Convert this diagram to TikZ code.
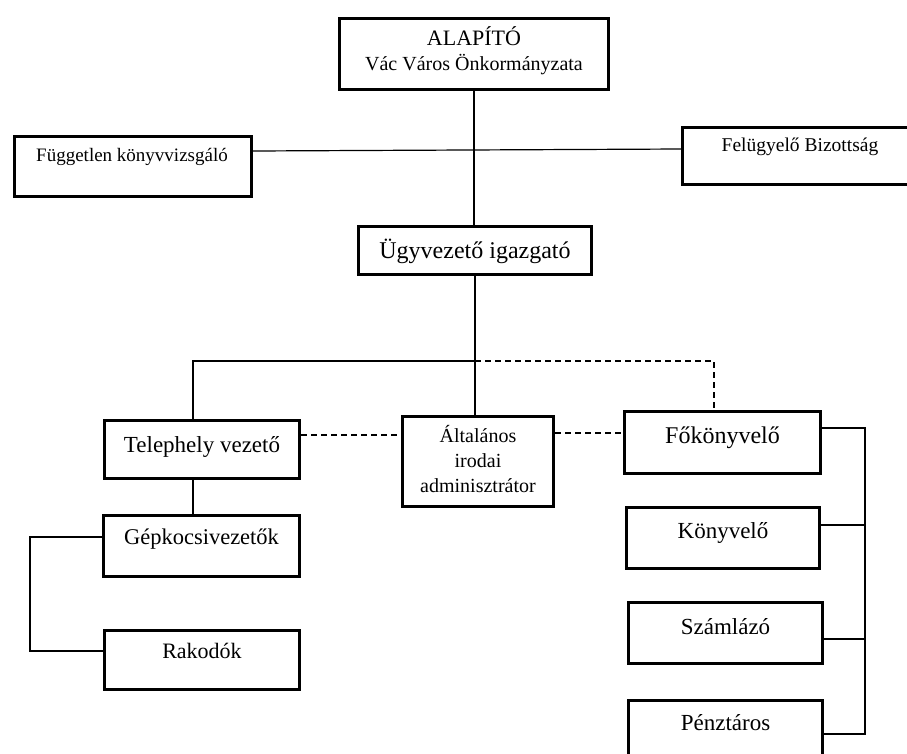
\documentclass[tikz,border=0pt]{standalone}
\usepackage{fontspec}
\setmainfont{Liberation Serif}
\begin{document}
\begin{tikzpicture}[x=1pt,y=-1pt,
  obox/.style={draw=black, line width=3pt, fill=white, rectangle, inner sep=0pt, anchor=north west},
  lbl/.style={anchor=base, inner sep=0pt, text=black},
  conn/.style={draw=black, line width=1.2pt},
  dconn/.style={draw=black, line width=1.2pt, dash pattern=on 6pt off 4pt}]
\useasboundingbox (0,0) rectangle (907,753);
\clip (0,0) rectangle (907,753);
\fill[white] (0,0) rectangle (907,753);
% boxes
\node[obox, minimum width=269pt, minimum height=71pt] (alap) at (338,17) {};
\node[obox, minimum width=237pt, minimum height=60pt] (fug) at (13,135) {};
\node[obox, minimum width=240pt, minimum height=57pt] (fel) at (681,126) {};
\node[obox, minimum width=233pt, minimum height=48pt] (ugy) at (357,225) {};
\node[obox, minimum width=195pt, minimum height=58pt] (tel) at (103,419) {};
\node[obox, minimum width=151pt, minimum height=90pt] (alt) at (401,415) {};
\node[obox, minimum width=196pt, minimum height=62pt] (fok) at (623,410) {};
\node[obox, minimum width=196pt, minimum height=61pt] (gep) at (102,514) {};
\node[obox, minimum width=195pt, minimum height=59pt] (rak) at (103,629) {};
\node[obox, minimum width=193pt, minimum height=61pt] (kon) at (625,506) {};
\node[obox, minimum width=194pt, minimum height=61pt] (sza) at (627,601) {};
\node[obox, minimum width=194pt, minimum height=70pt] (pen) at (627,699) {};
% texts
\node[lbl, font=\fontsize{22}{25}\selectfont] (alapT1) at (alap.center |- 0,45) {ALAPÍTÓ};
\node[lbl, font=\fontsize{20}{24}\selectfont] (alapT2) at (alap.center |- 0,70) {Vác Város Önkormányzata};
\node[lbl, font=\fontsize{19}{23}\selectfont] (fugT) at (132,161) {Független könyvvizsgáló};
\node[lbl, font=\fontsize{19.5}{23}\selectfont] (felT) at (800,151) {Felügyelő Bizottság};
\node[lbl, font=\fontsize{24}{28}\selectfont] (ugyT) at (ugy.center |- 0,258) {Ügyvezető igazgató};
\node[lbl, font=\fontsize{23}{27}\selectfont] (telT) at (tel.center |- 0,452) {Telephely vezető};
\node[lbl, font=\fontsize{20}{24}\selectfont] (altT1) at (alt.center |- 0,442) {Általános};
\node[lbl, font=\fontsize{20}{24}\selectfont] (altT2) at (alt.center |- 0,467) {irodai};
\node[lbl, font=\fontsize{20}{24}\selectfont] (altT3) at (alt.center |- 0,492) {adminisztrátor};
\node[lbl, font=\fontsize{24}{28}\selectfont] (fokT) at (fok.center |- 0,443) {Főkönyvelő};
\node[lbl, font=\fontsize{22.5}{26}\selectfont] (gepT) at (gep.center |- 0,544) {Gépkocsivezetők};
\node[lbl, font=\fontsize{22}{26}\selectfont] (rakT) at (rak.center |- 0,658) {Rakodók};
\node[lbl, font=\fontsize{23}{27}\selectfont] (konT) at (kon.center |- 0,538) {Könyvelő};
\node[lbl, font=\fontsize{23}{27}\selectfont] (szaT) at (sza.center |- 0,634) {Számlázó};
\node[lbl, font=\fontsize{23}{27}\selectfont] (penT) at (pen.center |- 0,730) {Pénztáros};
% junction coordinates
\coordinate (jmid) at (475,361);
\coordinate (jleft) at (193,361);
\coordinate (jright) at (714,361);
\coordinate (ljoin) at (30,537);
\coordinate (rjoin) at (865,428);
% connectors
\draw[conn] (alap.south -| 474,0) -- (ugy.north -| 474,0);
\draw[conn] (fug.east |- 0,151) -- (fel.west |- 0,149);
\draw[conn] (ugy.south -| jmid) -- (alt.north -| jmid);
\draw[conn] (jmid) -- (jleft) -- (tel.north -| jleft);
\draw[dconn] (jmid) -- (jright) -- (fok.north -| jright);
\draw[dconn] (tel.east |- 0,435) -- (alt.west |- 0,435);
\draw[dconn] (alt.east |- 0,433) -- (fok.west |- 0,433);
\draw[conn] (tel.south -| jleft) -- (gep.north -| jleft);
\draw[conn] (gep.west |- ljoin) -- (ljoin) -- (ljoin |- 0,651) -- (rak.west |- 0,651);
\draw[conn] (fok.east |- rjoin) -- (rjoin) -- (rjoin |- 0,734) -- (pen.east |- 0,734);
\draw[conn] (kon.east |- 0,525) -- (rjoin |- 0,525);
\draw[conn] (sza.east |- 0,639) -- (rjoin |- 0,639);
\end{tikzpicture}
\end{document}
